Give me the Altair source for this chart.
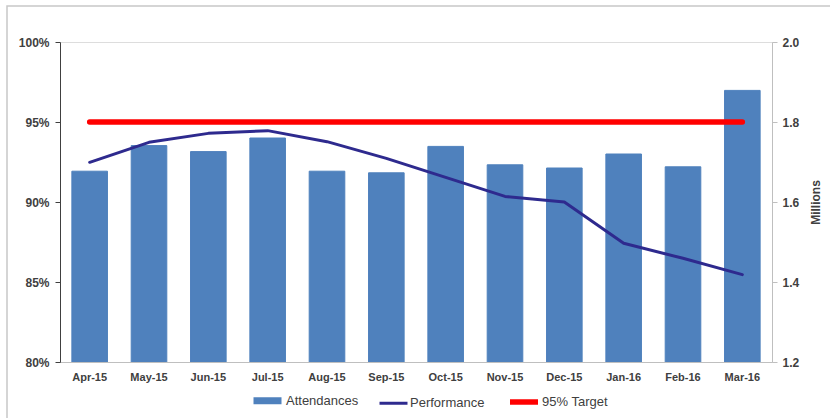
import altair as alt
import pandas as pd

months = ["Apr-15", "May-15", "Jun-15", "Jul-15", "Aug-15", "Sep-15",
          "Oct-15", "Nov-15", "Dec-15", "Jan-16", "Feb-16", "Mar-16"]
attendances = [1.677, 1.741, 1.726, 1.760, 1.677, 1.673,
               1.739, 1.693, 1.685, 1.720, 1.688, 1.879]
performance = [0.9248, 0.9373, 0.9429, 0.9446, 0.9377, 0.9273,
               0.9154, 0.9035, 0.9000, 0.8742, 0.8648, 0.8546]
target = [0.95, 0.95, 0.95, 0.95, 0.95, 0.95,
          0.95, 0.95, 0.95, 0.95, 0.95, 0.95]

series_names = ["Attendances", "Performance", "95% Target"]
series_colors = ["#4F81BD", "#2E2A8E", "#FF0000"]
series_widths = [7, 3, 5.5]

bars_df = pd.DataFrame({"month": months, "value": attendances, "series": "Attendances"})
lines_df = pd.concat([
    pd.DataFrame({"month": months, "value": performance, "series": "Performance"}),
    pd.DataFrame({"month": months, "value": target, "series": "95% Target"}),
])

x_enc = alt.X("month:N", sort=months,
              scale=alt.Scale(paddingInner=0.4, paddingOuter=0.2),
              axis=alt.Axis(title=None, labelAngle=0, ticks=False, domainColor="#BFBFBF",
                            labelFontWeight="bold", labelFontSize=11, labelColor="#404040",
                            labelPadding=9, labelFont="Liberation Sans"))

stroke_scale = alt.Scale(domain=series_names, range=series_colors)
width_scale = alt.Scale(type="ordinal", domain=series_names, range=series_widths)

legend = alt.Legend(title=None, orient="none", legendX=190, legendY=341, direction="horizontal",
                    symbolType="stroke", symbolSize=784, labelFontSize=13,
                    labelFont="Liberation Sans", labelColor="#404040",
                    labelOffset=1, columnPadding=14)

bars = alt.Chart(bars_df).mark_bar(fill="#4F81BD", clip=True).encode(
    x=x_enc,
    y=alt.Y("value:Q",
            scale=alt.Scale(domain=[1.2, 2.0], zero=False, nice=False),
            axis=alt.Axis(orient="right", title="Millions", values=[1.2, 1.4, 1.6, 1.8, 2.0],
                          format=".1f", grid=False, domainColor="#BFBFBF", tickColor="#BFBFBF",
                          tickSize=5, labelPadding=5, labelFontWeight="bold", labelFontSize=12,
                          labelColor="#404040", labelFont="Liberation Sans",
                          titleFont="Liberation Sans", titleFontSize=12, titleColor="#404040",
                          titleAngle=270, titlePadding=24, titleFontWeight="bold")),
    stroke=alt.Stroke("series:N", scale=stroke_scale, legend=legend),
)

lines = alt.Chart(lines_df).mark_line(strokeCap="round", strokeJoin="round").encode(
    x=alt.X("month:N", sort=months),
    y=alt.Y("value:Q",
            scale=alt.Scale(domain=[0.8, 1.0], zero=False, nice=False),
            axis=alt.Axis(orient="left", title=None, values=[0.8, 0.85, 0.9, 0.95, 1.0],
                          format=".0%", grid=False, domainColor="#404040", tickColor="#404040",
                          tickSize=5, labelPadding=6, labelFontWeight="bold", labelFontSize=12,
                          labelColor="#404040", labelFont="Liberation Sans")),
    stroke=alt.Stroke("series:N", scale=stroke_scale, legend=legend),
    strokeWidth=alt.StrokeWidth("series:N", scale=width_scale, legend=legend),
    detail="series:N",
)

border = alt.Chart(pd.DataFrame({"k": [0]})).mark_rect(fill="transparent", stroke="#C8C8C8",
                                                        strokeWidth=1.5).encode(
    x=alt.value(-53), x2=alt.value(780), y=alt.value(-36), y2=alt.value(390))

chart = alt.layer(border, bars, lines).resolve_scale(y="independent").properties(
    width=712, height=320,
    autosize=alt.AutoSizeParams(type="none"),
    padding={"left": 60, "top": 42, "right": 58, "bottom": 56},
).configure_view(stroke=None).configure(background="white")

chart.save("out.html", embed_options={"renderer": "svg", "actions": False})
